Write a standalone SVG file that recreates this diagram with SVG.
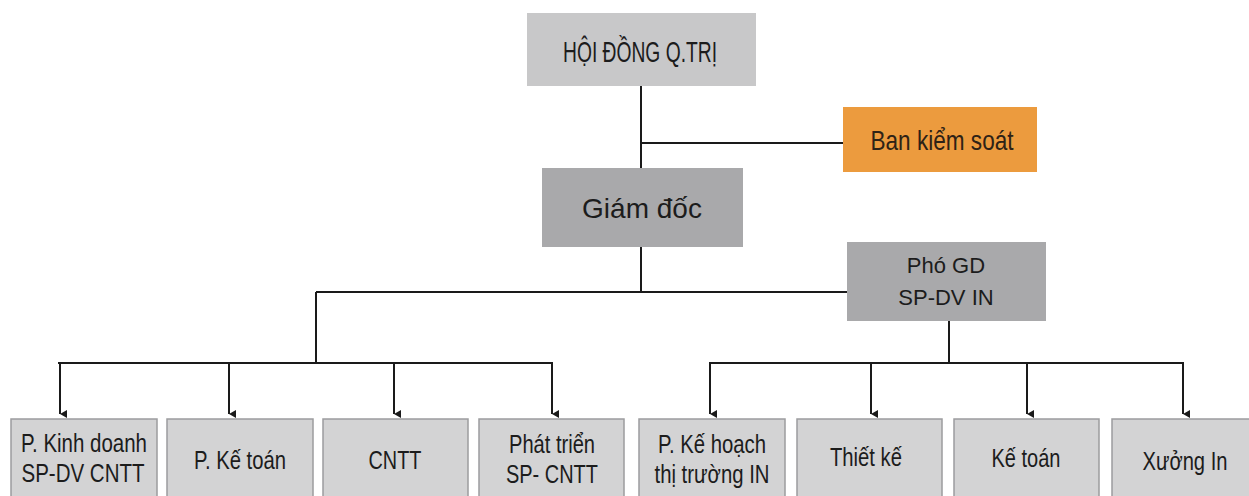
<svg xmlns="http://www.w3.org/2000/svg" width="1249" height="496" viewBox="0 0 1249 496">
  <style>
    .t { font-family: "Liberation Sans", Arial, sans-serif; fill: #1c1c1c; text-anchor: middle; }
    .top { fill: #c8c8c9; }
    .dir { fill: #a9a9ab; }
    .ctl { fill: #ec9b3e; }
    .dept { fill: #d3d3d4; stroke: #9c9c9e; stroke-width: 1.5; }
    .ln { stroke: #1a1a1a; stroke-width: 2; fill: none; }
  </style>
  <defs>
    <marker id="ah" markerWidth="9" markerHeight="9" refX="4.5" refY="8" orient="auto-start-reverse" markerUnits="userSpaceOnUse" viewBox="0 0 9 9">
      <path d="M0.5,1 L8.5,1 L4.5,8 Z" fill="#1a1a1a"/>
    </marker>
  </defs>
  <rect width="1249" height="496" fill="#ffffff"/>

  <!-- connectors -->
  <g id="connectors">
    <path class="ln" d="M641,86 V168"/>
    <path class="ln" d="M641,143 H843"/>
    <path class="ln" d="M641,247 V292"/>
    <path class="ln" d="M316,292 H847"/>
    <path class="ln" d="M316,292 V363"/>
    <path class="ln" d="M58,363 H553"/>
    <path class="ln" d="M949,321 V363"/>
    <path class="ln" d="M709,363 H1184"/>
    <path class="ln" d="M60,363 V414" marker-end="url(#ah)"/>
    <path class="ln" d="M229,363 V414" marker-end="url(#ah)"/>
    <path class="ln" d="M394,363 V414" marker-end="url(#ah)"/>
    <path class="ln" d="M552,363 V414" marker-end="url(#ah)"/>
    <path class="ln" d="M710,363 V414" marker-end="url(#ah)"/>
    <path class="ln" d="M871,363 V414" marker-end="url(#ah)"/>
    <path class="ln" d="M1027,363 V414" marker-end="url(#ah)"/>
    <path class="ln" d="M1183,363 V414" marker-end="url(#ah)"/>
  </g>

  <!-- board -->
  <g id="hdqt">
    <rect class="top" x="527" y="13" width="229" height="73"/>
    <text class="t" x="640" y="62" font-size="30" textLength="154" lengthAdjust="spacingAndGlyphs">HỘI ĐỒNG Q.TRỊ</text>
  </g>

  <g id="bks">
    <rect class="ctl" x="843" y="107" width="194" height="65"/>
    <text class="t" x="942" y="150" font-size="28" textLength="143" lengthAdjust="spacingAndGlyphs" style="fill:#2e2216">Ban kiểm soát</text>
  </g>

  <g id="giamdoc">
    <rect class="dir" x="542" y="168" width="201" height="79"/>
    <text class="t" x="642" y="218" font-size="28">Giám đốc</text>
  </g>

  <g id="phogd">
    <rect class="dir" x="847" y="242" width="199" height="79"/>
    <text class="t" x="946" y="273" font-size="22">Phó GD</text>
    <text class="t" x="946" y="305" font-size="22">SP-DV IN</text>
  </g>

  <!-- departments -->
  <g id="kinhdoanh">
    <rect class="dept" x="11" y="419" width="146" height="90"/>
    <text class="t" x="84" y="452" font-size="25" textLength="126" lengthAdjust="spacingAndGlyphs">P. Kinh doanh</text>
    <text class="t" x="83" y="482" font-size="25" textLength="123" lengthAdjust="spacingAndGlyphs">SP-DV CNTT</text>
  </g>

  <g id="ketoan1">
    <rect class="dept" x="167" y="419" width="146" height="90"/>
    <text class="t" x="240" y="469" font-size="25" textLength="92" lengthAdjust="spacingAndGlyphs">P. Kế toán</text>
  </g>

  <g id="cntt">
    <rect class="dept" x="323" y="419" width="145" height="90"/>
    <text class="t" x="395" y="469" font-size="25" textLength="53" lengthAdjust="spacingAndGlyphs">CNTT</text>
  </g>

  <g id="phattrien">
    <rect class="dept" x="479" y="419" width="145" height="90"/>
    <text class="t" x="552" y="453" font-size="25" textLength="86" lengthAdjust="spacingAndGlyphs">Phát triển</text>
    <text class="t" x="552" y="483" font-size="25" textLength="92" lengthAdjust="spacingAndGlyphs">SP- CNTT</text>
  </g>

  <g id="kehoach">
    <rect class="dept" x="639" y="419" width="146" height="90"/>
    <text class="t" x="712" y="453" font-size="25" textLength="108" lengthAdjust="spacingAndGlyphs">P. Kế hoạch</text>
    <text class="t" x="712" y="483" font-size="25" textLength="115" lengthAdjust="spacingAndGlyphs">thị trường IN</text>
  </g>

  <g id="thietke">
    <rect class="dept" x="797" y="419" width="145" height="90"/>
    <text class="t" x="866" y="466" font-size="25" textLength="72" lengthAdjust="spacingAndGlyphs">Thiết kế</text>
  </g>

  <g id="ketoan2">
    <rect class="dept" x="954" y="419" width="145" height="90"/>
    <text class="t" x="1026" y="467" font-size="25" textLength="69" lengthAdjust="spacingAndGlyphs">Kế toán</text>
  </g>

  <g id="xuongin">
    <rect class="dept" x="1112" y="419" width="146" height="90"/>
    <text class="t" x="1185" y="470" font-size="25" textLength="85" lengthAdjust="spacingAndGlyphs">Xưởng In</text>
  </g>
</svg>
